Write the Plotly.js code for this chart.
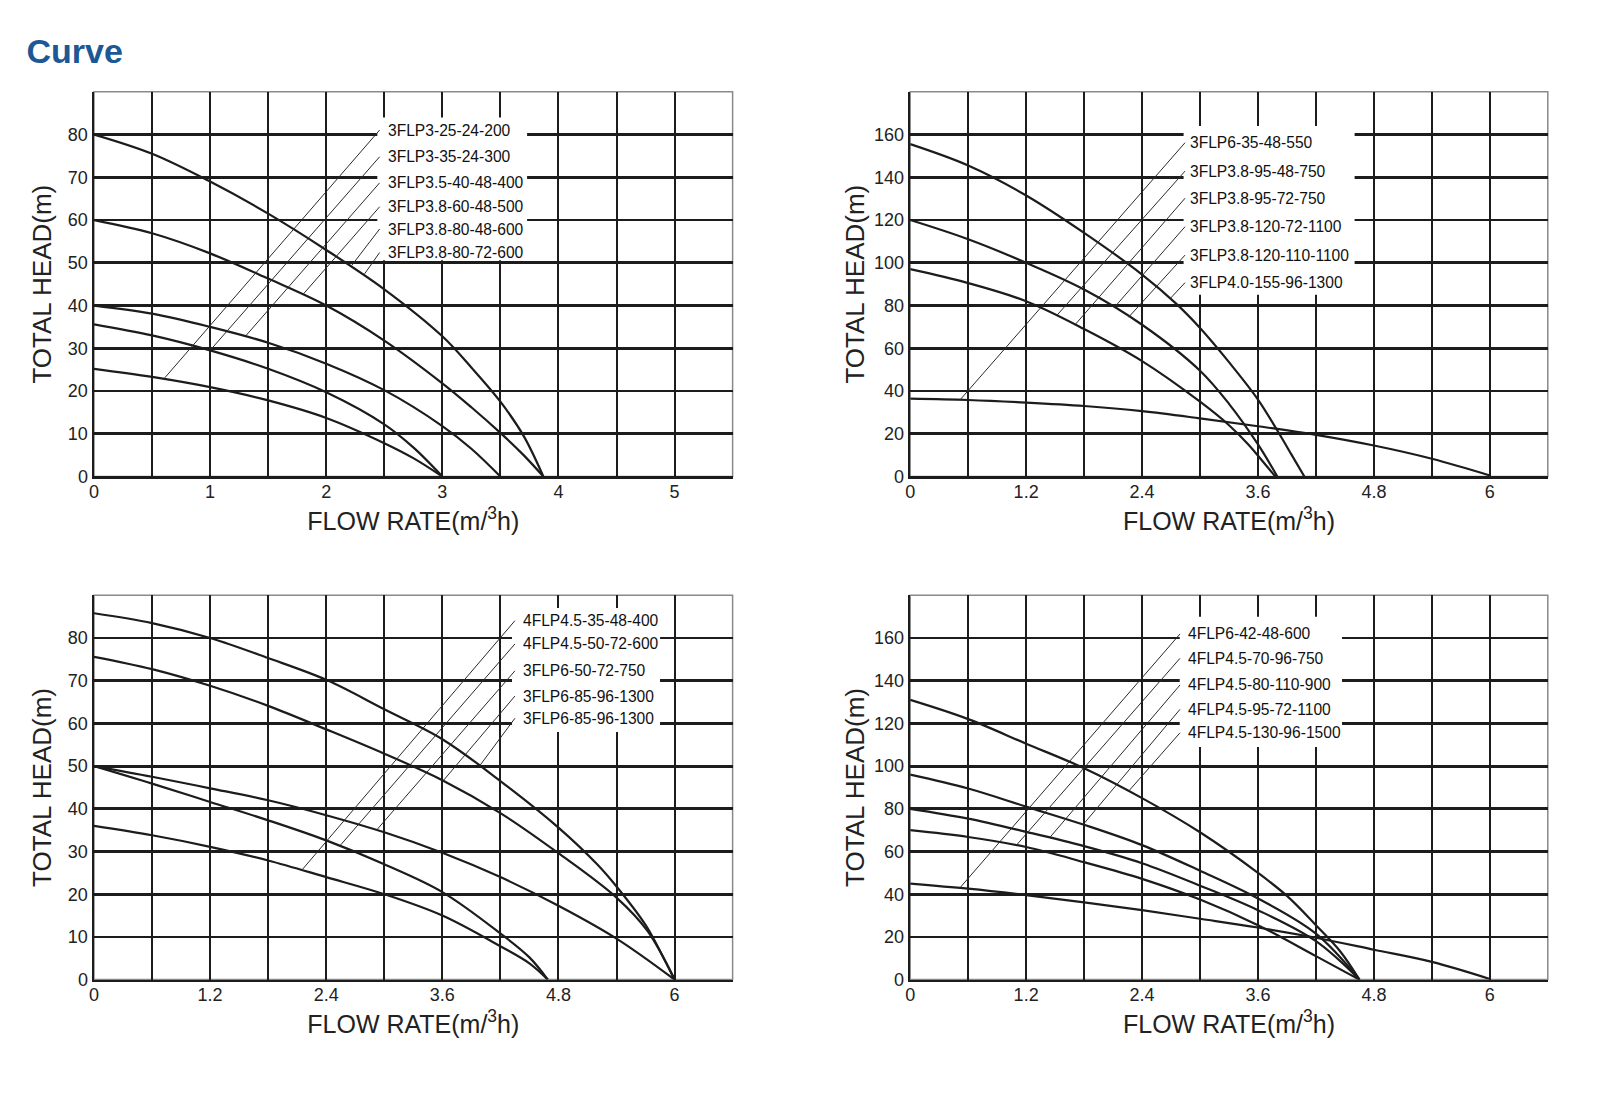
<!DOCTYPE html>
<html>
<head>
<meta charset="utf-8">
<script src="https://cdn.plot.ly/plotly-3.0.1.min.js"></script>
<style>html,body{margin:0;padding:0;background:#fff;}#chart{width:1600px;height:1098px;}</style>
</head>
<body>
<div id="chart"></div>
<script>
// ---------- Panel 1 (3FLP3 ... 3FLP3.8) ----------
const p1_x_80 = [0,0.5,1,1.5,2,2.5,3,3.25,3.5,3.7,3.87];
const p1_y_80 = [80,75.5,69,61.5,53,43.8,32.8,25.5,17.5,9.5,0];
const p1_x_60 = [0,0.5,1,1.5,2,2.5,3,3.25,3.5,3.7,3.87];
const p1_y_60 = [60,56.9,52.2,46.3,40,31.8,21.8,16.2,10.2,5,0];
const p1_x_40 = [0,0.5,1,1.5,2,2.5,3,3.25,3.5];
const p1_y_40 = [40,38.1,35,31.3,26.4,20.2,11.8,6.5,0];
const p1_x_35 = [0,0.5,1,1.5,2,2.5,2.75,3];
const p1_y_35 = [35.6,33,29.5,25.2,19.7,12.2,6.8,0];
const p1_x_25 = [0,0.5,1,1.5,2,2.5,2.75,3];
const p1_y_25 = [25.2,23.3,20.9,17.8,13.7,7.8,4.3,0];
const p1_labels = ["3FLP3-25-24-200","3FLP3-35-24-300","3FLP3.5-40-48-400","3FLP3.8-60-48-500","3FLP3.8-80-48-600","3FLP3.8-80-72-600"];
const p1_labelY = [81.05,74.8,68.7,63.1,57.9,52.4];
const p1_leadEndX = [0.61,1.0,1.31,1.8,2.22,2.33];
const p1_leadEndY = [23.1,29.5,33.0,42.6,49.4,47.4];
const p1_labelX = 2.515, p1_leadTopX = 2.46;
const p1_box = {x:[2.44,3.73], y:[50.6,84]};
const p1_xtickvals = [0,1,2,3,4,5];
const p1_xticktext = ["0","1","2","3","4","5"];
const p1_xminor = [0.5,1.5,2.5,3.5,4.5];
const p1_ytickvals = [0,10,20,30,40,50,60,70,80];

// ---------- Panel 2 ----------
const p2_x_155 = [0,0.6,1.2,1.8,2.4,2.75,3.0,3.3,3.6,3.8,3.95,4.08];
const p2_y_155 = [155.5,145.5,131.5,114,94.5,81,69.5,53.5,36,21.5,10,0];
const p2_x_120 = [0,0.6,1.2,1.8,2.4,3.0,3.3,3.6,3.8];
const p2_y_120 = [120,111,100,87.5,71,49.5,34,15,0];
const p2_x_97 = [0,0.6,1.2,1.8,2.4,3.0,3.3,3.5,3.65,3.78];
const p2_y_97 = [97,90.5,82,69,54,35,24,15,7,0];
const p2_x_36 = [0,0.6,1.2,1.8,2.4,3.0,3.6,4.2,4.8,5.4,6.0];
const p2_y_36 = [36.4,35.8,34.6,33,30.6,27.2,23.5,19.5,14.5,8.3,0.5];
const p2_labels = ["3FLP6-35-48-550","3FLP3.8-95-48-750","3FLP3.8-95-72-750","3FLP3.8-120-72-1100","3FLP3.8-120-110-1100","3FLP4.0-155-96-1300"];
const p2_labelY = [156.2,142.9,130.2,116.9,103.6,90.7];
const p2_leadEndX = [0.515,1.52,1.71,2.12,2.26,2.69];
const p2_leadEndY = [35.8,75.5,71.2,79.5,74.5,83.2];
const p2_labelX = 2.876, p2_leadTopX = 2.845;
const p2_box = {x:[2.83,4.6], y:[85,164]};

// ---------- Panel 3 ----------
const p3_x_86 = [0,0.6,1.2,1.8,2.4,3.0,3.6,4.2,4.8,5.2,5.4,5.7,5.87,6];
const p3_y_86 = [85.8,83.5,80,75.3,70.2,63.3,56.3,46.5,35.6,27,21.8,12.8,5.8,0];
const p3_x_76 = [0,0.6,1.2,1.8,2.4,3.0,3.6,4.2,4.8,5.4,5.72,6];
const p3_y_76 = [75.6,72.7,68.8,64.1,58.6,52.9,46.7,39,29.6,19.2,11.4,0];
const p3_x_50a = [0,0.6,1.2,1.8,2.4,3.0,3.6,4.2,4.8,5.4,6];
const p3_y_50a = [50,47.5,44.8,42,38.5,34.5,29.7,24,17.3,9.6,0];
const p3_x_50b = [0,0.6,1.2,1.8,2.4,3.0,3.6,4.2,4.5,4.69];
const p3_y_50b = [50,45.9,41.6,37.3,32.6,27,20.5,10.8,5.2,0];
const p3_x_36 = [0,0.6,1.2,1.8,2.4,3.0,3.6,4.2,4.5,4.69];
const p3_y_36 = [36,33.8,31.1,27.9,24,20,15,7.8,3.8,0];
const p3_labels = ["4FLP4.5-35-48-400","4FLP4.5-50-72-600","3FLP6-50-72-750","3FLP6-85-96-1300","3FLP6-85-96-1300"];
const p3_labelY = [84.05,78.6,72.3,66.4,61.2];
const p3_leadEndX = [2.15,2.54,2.92,3.61,3.99];
const p3_leadEndY = [25.7,31.3,35.0,46.6,50.2];
const p3_labelX = 4.41, p3_leadTopX = 4.35;
const p3_box = {x:[4.32,5.85], y:[58,87]};

// ---------- Panel 4 ----------
const p4_x_131 = [0,0.6,1.2,1.8,2.4,3.0,3.6,3.9,4.2,4.45,4.65];
const p4_y_131 = [131,122,110.5,99,85,69,50,39.2,25.5,13.3,0];
const p4_x_96 = [0,0.6,1.2,1.8,2.4,3.0,3.6,4.2,4.65];
const p4_y_96 = [96,89.5,81,72.5,63,51,38,21.5,0];
const p4_x_80 = [0,0.6,1.2,1.8,2.4,3.0,3.6,4.2,4.65];
const p4_y_80 = [80,75.4,69.2,62.5,54.5,44,32.5,18,0];
const p4_x_70 = [0,0.6,1.2,1.8,2.4,3.0,3.6,4.2,4.65];
const p4_y_70 = [70,66.8,62.1,55,47.2,37.5,25.5,11,0];
const p4_x_45 = [0,0.6,1.2,1.8,2.4,3.0,3.6,4.2,4.8,5.4,6];
const p4_y_45 = [45,42.6,39.6,36.2,32.5,28.5,24.4,19.6,14,8.3,0.3];
const p4_labels = ["4FLP6-42-48-600","4FLP4.5-70-96-750","4FLP4.5-80-110-900","4FLP4.5-95-72-1100","4FLP4.5-130-96-1500"];
const p4_labelY = [161.9,150.5,138,126.6,115.6];
const p4_leadEndX = [0.515,1.10,1.45,1.79,2.26];
const p4_leadEndY = [43.0,63.0,66.8,72.6,88.2];
const p4_labelX = 2.855, p4_leadTopX = 2.793;
const p4_box = {x:[2.79,4.47], y:[109,170]};

// shared tick labels for 6-m3/h panels
const x6_tickvals = [0,1.2,2.4,3.6,4.8,6];
const x6_ticktext = ["0","1.2","2.4","3.6","4.8","6"];
const x6_minor = [0.6,1.8,3.0,4.2,5.4];
const y160_tickvals = [0,20,40,60,80,100,120,140,160];

const FONT = '"Liberation Sans", Arial, sans-serif';
const INK = '#1c1c1c';

const traces = [];
function curve(x, y, ax) {
  traces.push({x:x, y:y, xaxis:'x'+ax, yaxis:'y'+ax, type:'scatter', mode:'lines',
    line:{color:INK, width:2.2, shape:'spline', smoothing:1}, hoverinfo:'skip', showlegend:false});
}
curve(p1_x_80,p1_y_80,''); curve(p1_x_60,p1_y_60,''); curve(p1_x_40,p1_y_40,'');
curve(p1_x_35,p1_y_35,''); curve(p1_x_25,p1_y_25,'');
curve(p2_x_155,p2_y_155,'2'); curve(p2_x_120,p2_y_120,'2'); curve(p2_x_97,p2_y_97,'2'); curve(p2_x_36,p2_y_36,'2');
curve(p3_x_86,p3_y_86,'3'); curve(p3_x_76,p3_y_76,'3'); curve(p3_x_50a,p3_y_50a,'3'); curve(p3_x_50b,p3_y_50b,'3'); curve(p3_x_36,p3_y_36,'3');
curve(p4_x_131,p4_y_131,'4'); curve(p4_x_96,p4_y_96,'4'); curve(p4_x_80,p4_y_80,'4'); curve(p4_x_70,p4_y_70,'4'); curve(p4_x_45,p4_y_45,'4');

const annotations = [];
const shapes = [];
function labelSet(labels, labelY, endX, endY, labelX, topX, box, ax) {
  const xr = 'x'+ax, yr = 'y'+ax;
  shapes.push({type:'rect', xref:xr, yref:yr, x0:box.x[0], x1:box.x[1], y0:box.y[0], y1:box.y[1],
    fillcolor:'#ffffff', line:{width:0}, layer:'between'});
  labels.forEach((t,i) => {
    traces.push({x:[topX, endX[i]], y:[labelY[i], endY[i]], xaxis:xr, yaxis:yr, type:'scatter', mode:'lines',
      line:{color:'#2a2a2a', width:1}, hoverinfo:'skip', showlegend:false});
    annotations.push({xref:xr, yref:yr, x:labelX, y:labelY[i], text:t, showarrow:false,
      xanchor:'left', yanchor:'middle', font:{family:FONT, size:15.6, color:'#111'}});
  });
}
labelSet(p1_labels,p1_labelY,p1_leadEndX,p1_leadEndY,p1_labelX,p1_leadTopX,p1_box,'');
labelSet(p2_labels,p2_labelY,p2_leadEndX,p2_leadEndY,p2_labelX,p2_leadTopX,p2_box,'2');
labelSet(p3_labels,p3_labelY,p3_leadEndX,p3_leadEndY,p3_labelX,p3_leadTopX,p3_box,'3');
labelSet(p4_labels,p4_labelY,p4_leadEndX,p4_leadEndY,p4_labelX,p4_leadTopX,p4_box,'4');

// frames (thin grey top/right border)
['','2','3','4'].forEach(a => {
  shapes.push({type:'rect', xref:'x'+a+' domain', yref:'y'+a+' domain', x0:0, x1:1, y0:0, y1:1,
    line:{color:'#8a8a8a', width:1.5}, fillcolor:'rgba(0,0,0,0)', layer:'below'});
});

function xaxisDef(domain, anchor, range, tv, tt, minor) {
  return {domain:domain, anchor:anchor, range:range, tickvals:tv, ticktext:tt, showgrid:true,
    gridcolor:INK, gridwidth:2, zeroline:false, showline:true, linecolor:INK, linewidth:2.5,
    ticks:'', ticklabelstandoff:-3, tickfont:{family:FONT, size:18, color:'#222'},
    minor:{tickvals:minor, showgrid:true, gridcolor:INK, gridwidth:2, ticks:''},
    title:{text:'FLOW RATE(m/<sup>3</sup>h)', font:{family:FONT, size:25, color:'#222'}, standoff:12},
    fixedrange:true};
}
function yaxisDef(domain, anchor, range, tv, standoff) {
  return {domain:domain, anchor:anchor, range:range, tickvals:tv, showgrid:true,
    gridcolor:INK, gridwidth:2.8, zeroline:false, showline:true, linecolor:INK, linewidth:2.5,
    ticks:'', ticklabelstandoff:0, tickfont:{family:FONT, size:18, color:'#222'},
    title:{text:'TOTAL HEAD(m)', font:{family:FONT, size:26, color:'#222'}, standoff:standoff},
    fixedrange:true};
}

const dxL = [0.05875, 0.45788], dxR = [0.56888, 0.96738];
const dyT = [0.56603, 0.91639], dyB = [0.10783, 0.45783];

const layout = {
  width:1600, height:1098, margin:{l:0, r:0, t:0, b:0}, paper_bgcolor:'#fff', plot_bgcolor:'#fff',
  font:{family:FONT, color:'#222'}, showlegend:false,
  title:{text:'<b>Curve</b>', x:0.0166, xanchor:'left', xref:'paper', y:0.9536, yanchor:'middle', yref:'paper',
    font:{family:FONT, size:34, color:'#1c5796'}},
  xaxis: xaxisDef(dxL,'y',[0,5.5],p1_xtickvals,p1_xticktext,p1_xminor),
  yaxis: yaxisDef(dyT,'x',[0,90],p1_ytickvals,9),
  xaxis2: xaxisDef(dxR,'y2',[0,6.6],x6_tickvals,x6_ticktext,x6_minor),
  yaxis2: yaxisDef(dyT,'x2',[0,180],y160_tickvals,2),
  xaxis3: xaxisDef(dxL,'y3',[0,6.6],x6_tickvals,x6_ticktext,x6_minor),
  yaxis3: yaxisDef(dyB,'x3',[0,90],p1_ytickvals,9),
  xaxis4: xaxisDef(dxR,'y4',[0,6.6],x6_tickvals,x6_ticktext,x6_minor),
  yaxis4: yaxisDef(dyB,'x4',[0,180],y160_tickvals,2),
  annotations:annotations, shapes:shapes
};
Plotly.newPlot('chart', traces, layout, {staticPlot:true, displayModeBar:false});
</script>
</body>
</html>
